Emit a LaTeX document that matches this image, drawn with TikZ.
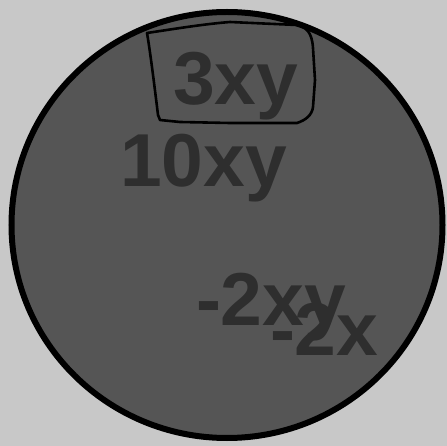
\documentclass[tikz,border=0pt]{standalone}
\usepackage{fontspec}
\setmainfont{Liberation Sans}
\definecolor{bgc}{HTML}{C8C8C8}
\definecolor{discc}{HTML}{555555}
\definecolor{termc}{HTML}{2E2E2E}
\begin{document}
\begin{tikzpicture}[x=1pt,y=-1pt,
  term/.style={anchor=base west,inner sep=0pt,outer sep=0pt,text=termc,font=\fontsize{75}{75}\selectfont\bfseries},
  disc/.style={fill=discc,draw=black,line width=6pt},
  handbox/.style={draw=black,line width=2.6pt,line join=round,line cap=round}]
\fill[bgc] (0,0) rectangle (447,446);
\useasboundingbox (0,0) rectangle (447,446);
\draw[disc] (227,225) ellipse [x radius=215.5, y radius=213];
\node[term] (t1) at (173,105) {3xy};
\node[term] (t2) at (120,187) {10xy};
\node[term] (t3) at (196,325) {-2xy};
\node[term] (t4) at (270,355) {-2x};
\draw[handbox] (147,33) .. controls (180,28) and (205,24) .. (230,22)
  -- (297,25) .. controls (306,27) and (312,32) .. (313,48)
  -- (315,80) -- (313,107) .. controls (312,115) and (306,120) .. (297,123)
  -- (230,123) -- (180,122) -- (160,120) -- (158,115) .. controls (155,90) and (150,50) .. cycle;
\end{tikzpicture}
\end{document}
